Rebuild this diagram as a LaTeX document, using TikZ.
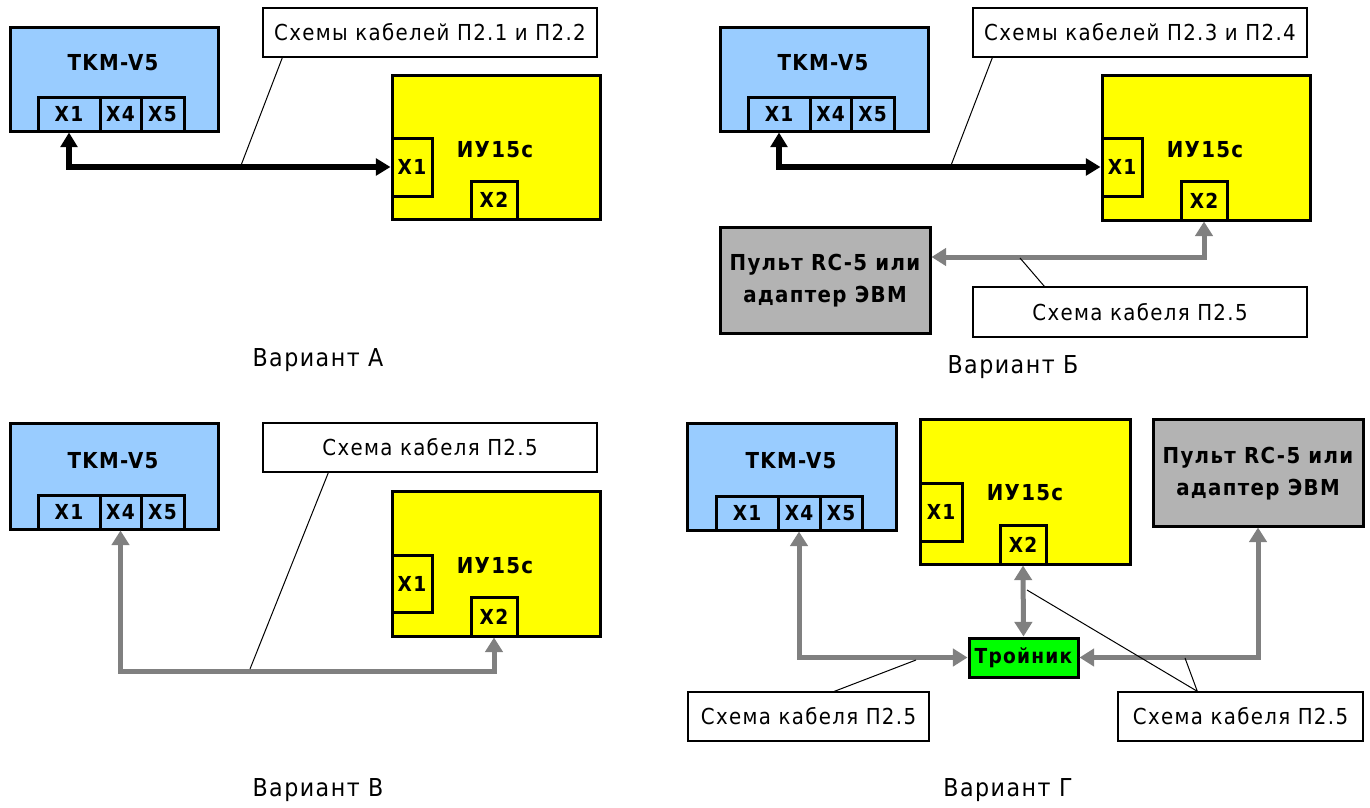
\documentclass[tikz,border=0pt]{standalone}
\usepackage{fontspec}
\setmainfont[LetterSpace=6]{DejaVu Sans Condensed}
\usetikzlibrary{arrows.meta,fit}
\definecolor{tkmblue}{HTML}{99CCFF}
\definecolor{iuyellow}{HTML}{FFFF00}
\definecolor{pultgray}{HTML}{B3B3B3}
\definecolor{teegreen}{HTML}{00FF00}
\definecolor{cablegray}{HTML}{808080}
\tikzset{
  devbox/.style={draw=black, line width=2.25pt, inner sep=0pt},
  tkmbox/.style={devbox, fill=tkmblue},
  iubox/.style={devbox, fill=iuyellow},
  pultbox/.style={devbox, fill=pultgray},
  teebox/.style={devbox, fill=teegreen},
  context/.style={font=\bfseries\fontsize{15.5}{18}\selectfont, inner sep=0pt},
  tkmcon/.style={devbox, fill=tkmblue},
  iucon/.style={devbox, fill=iuyellow},
  devtitle/.style={font=\bfseries\fontsize{16.5}{19}\selectfont, inner sep=0pt},
  teetext/.style={font=\bfseries\fontsize{15.5}{19}\selectfont, inner sep=0pt},
  pulttext/.style={font=\bfseries\fontsize{16.5}{24}\selectfont, align=center, inner sep=0pt},
  notebox/.style={draw=black, line width=1pt, fill=white, inner sep=0pt},
  notetext/.style={font=\fontsize{16.5}{19}\selectfont, inner sep=0pt},
  caption/.style={font=\fontsize{18.5}{20}\selectfont, inner sep=0pt},
  leader/.style={draw=black, line width=0.75pt},
  blackcable/.style={draw=black, line width=4.5pt, >={Triangle[length=11pt,width=12.5pt]}, <->},
  graycable/.style={draw=cablegray, line width=3.75pt, >={Triangle[length=11pt,width=13pt]}, <->},
}
\begin{document}
\begin{tikzpicture}[x=0.75pt,y=-0.75pt]
\fill[white] (0,0) rectangle (1370,807);
\useasboundingbox (0,0) rectangle (1370,807);

% ---------------- Variant A ----------------
\node[tkmbox, fit={(10,27)(218,131)}] (tkmA) {};
\node[devtitle] (tkmAt) at (113,63) {TKM-V5};
\node[tkmcon, fit={(38,97)(100,131)}] (aX1) {};
\node[tkmcon, fit={(100,97)(141,131)}] (aX4) {};
\node[tkmcon, fit={(141,97)(184,131)}] (aX5) {};
\node[context] (aX1t) at (aX1.center) {X1};
\node[context] (aX4t) at (aX4.center) {X4};
\node[context] (aX5t) at (aX5.center) {X5};
\node[iubox, fit={(392,75)(600,219)}] (iuA) {};
\node[devtitle] (iuAt) at (495,150) {ИУ15с};
\node[iucon, fit={(392,138)(432,196)}] (aiX1) {};
\node[iucon, fit={(471,181)(517,219)}] (aiX2) {};
\node[context] (aiX1t) at (aiX1.center) {X1};
\node[context] (aiX2t) at (aiX2.center) {X2};
\node[notebox, fit={(263,8)(597,57)}] (noteA) {};
\node[notetext] (noteAt) at (noteA.center) {Схемы кабелей П2.1 и П2.2};
\draw[blackcable] (aX1.south) |- (aiX1.west);
\coordinate (leadA) at (240,168);
\draw[leader] (noteA.south west) ++(20,0) -- (leadA);
\node[caption] (capA) at (318,360) {Вариант А};

% ---------------- Variant B (Б) ----------------
\node[tkmbox, fit={(720,27)(928,131)}] (tkmB) {};
\node[devtitle] (tkmBt) at (823,63) {TKM-V5};
\node[tkmcon, fit={(748,97)(810,131)}] (bX1) {};
\node[tkmcon, fit={(810,97)(851,131)}] (bX4) {};
\node[tkmcon, fit={(851,97)(894,131)}] (bX5) {};
\node[context] (bX1t) at (bX1.center) {X1};
\node[context] (bX4t) at (bX4.center) {X4};
\node[context] (bX5t) at (bX5.center) {X5};
\node[iubox, fit={(1102,75)(1310,220)}] (iuB) {};
\node[devtitle] (iuBt) at (1205,150) {ИУ15с};
\node[iucon, fit={(1102,138)(1142,196)}] (biX1) {};
\node[iucon, fit={(1181,181)(1227,220)}] (biX2) {};
\node[context] (biX1t) at (biX1.center) {X1};
\node[context] (biX2t) at (biX2.center) {X2};
\node[notebox, fit={(973,8)(1307,57)}] (noteB) {};
\node[notetext] (noteBt) at (noteB.center) {Схемы кабелей П2.3 и П2.4};
\node[pultbox, fit={(720,227)(930,333)}] (pultB) {};
\node[pulttext] (pultBt) at (825,281) {Пульт RC-5 или\\адаптер ЭВМ};
\node[notebox, fit={(973,287)(1307,337)}] (noteB2) {};
\node[notetext] (noteB2t) at (noteB2.center) {Схема кабеля П2.5};
\draw[blackcable] (bX1.south) |- (biX1.west);
\coordinate (bBend) at (1204,257);
\draw[graycable] (biX2.south) |- (pultB.east |- bBend);
\coordinate (leadB) at (950,168);
\draw[leader] (noteB.south west) ++(20,0) -- (leadB);
\coordinate (leadB2) at (1020,258);
\draw[leader] (noteB2.north west) ++(72,0) -- (leadB2);
\node[caption] (capB) at (1013,367) {Вариант Б};

% ---------------- Variant V (В) ----------------
\node[tkmbox, fit={(10,423)(218,529)}] (tkmC) {};
\node[devtitle] (tkmCt) at (113,461) {TKM-V5};
\node[tkmcon, fit={(38,495)(100,529)}] (cX1) {};
\node[tkmcon, fit={(100,495)(141,529)}] (cX4) {};
\node[tkmcon, fit={(141,495)(184,529)}] (cX5) {};
\node[context] (cX1t) at (cX1.center) {X1};
\node[context] (cX4t) at (cX4.center) {X4};
\node[context] (cX5t) at (cX5.center) {X5};
\node[iubox, fit={(392,491)(600,636)}] (iuC) {};
\node[devtitle] (iuCt) at (495,566) {ИУ15с};
\node[iucon, fit={(392,555)(432,612)}] (ciX1) {};
\node[iucon, fit={(471,597)(517,636)}] (ciX2) {};
\node[context] (ciX1t) at (ciX1.center) {X1};
\node[context] (ciX2t) at (ciX2.center) {X2};
\node[notebox, fit={(263,423)(597,472)}] (noteC) {};
\node[notetext] (noteCt) at (noteC.center) {Схема кабеля П2.5};
\coordinate (cBend) at (0,671);
\draw[graycable] (cX4.south) -- (cX4.south |- cBend) -- (ciX2.south |- cBend) -- (ciX2.south);
\coordinate (leadC) at (250,669);
\draw[leader] (noteC.south west) ++(66,0) -- (leadC);
\node[caption] (capC) at (318,790) {Вариант В};

% ---------------- Variant G (Г) ----------------
\node[tkmbox, fit={(687,423)(896,530)}] (tkmD) {};
\node[devtitle] (tkmDt) at (791,461) {TKM-V5};
\node[tkmcon, fit={(716,496)(778,530)}] (dX1) {};
\node[tkmcon, fit={(778,496)(820,530)}] (dX4) {};
\node[tkmcon, fit={(820,496)(862,530)}] (dX5) {};
\node[context] (dX1t) at (dX1.center) {X1};
\node[context] (dX4t) at (dX4.center) {X4};
\node[context] (dX5t) at (dX5.center) {X5};
\node[iubox, fit={(920,419)(1130,564)}] (iuD) {};
\node[devtitle] (iuDt) at (1025,493) {ИУ15с};
\node[iucon, fit={(920,483)(962,541)}] (diX1) {};
\node[iucon, fit={(1000,525)(1046,564)}] (diX2) {};
\node[context] (diX1t) at (diX1.center) {X1};
\node[context] (diX2t) at (diX2.center) {X2};
\node[pultbox, fit={(1153,419)(1363,526)}] (pultD) {};
\node[pulttext] (pultDt) at (1258,474) {Пульт RC-5 или\\адаптер ЭВМ};
\node[teebox, fit={(969,638)(1078,677)}] (tee) {};
\node[teetext] (teet) at (tee.center) {Тройник};
\node[notebox, fit={(688,692)(929,741)}] (noteD1) {};
\node[notetext] (noteD1t) at (noteD1.center) {Схема кабеля П2.5};
\node[notebox, fit={(1118,692)(1363,741)}] (noteD2) {};
\node[notetext] (noteD2t) at (noteD2.center) {Схема кабеля П2.5};
\draw[graycable] (dX4.south) |- (tee.west);
\draw[graycable] (diX2.south) -- (tee.north);
\draw[graycable] (pultD.south) |- (tee.east);
\coordinate (leadD1) at (916,660);
\draw[leader] (noteD1.north west) ++(147,0) -- (leadD1);
\coordinate (leadD2a) at (1027,590);
\coordinate (leadD2b) at (1185,658);
\draw[leader] (leadD2a) -- ([xshift=80*0.75pt]noteD2.north west) -- (leadD2b);
\node[caption] (capD) at (1008,790) {Вариант Г};
\end{tikzpicture}
\end{document}
